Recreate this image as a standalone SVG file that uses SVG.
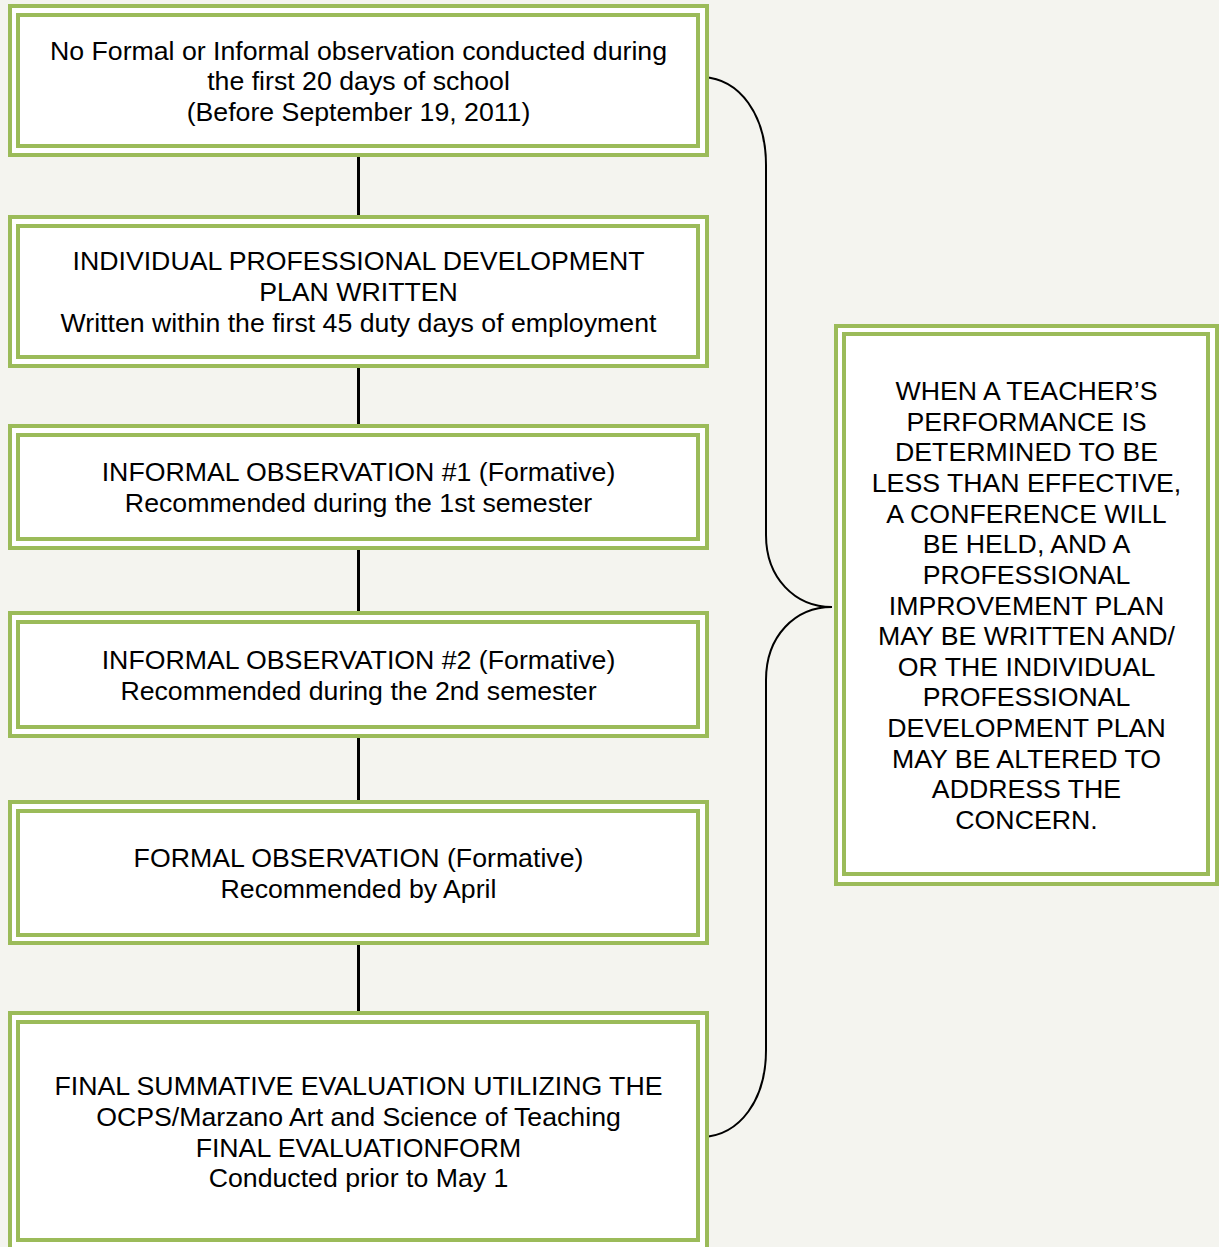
<svg xmlns="http://www.w3.org/2000/svg" width="1219" height="1247" viewBox="0 0 1219 1247">
<style>
.o{fill:#ffffff;stroke:#9bbb59;stroke-width:4}
.i{fill:none;stroke:#9bbb59;stroke-width:4}
text{font-family:"Liberation Sans",Arial,sans-serif;font-size:26.7px;fill:#000;text-anchor:middle}
.c{stroke:#000;stroke-width:3;fill:none}
.b{stroke:#000;stroke-width:2;fill:none}
</style>
<rect width="1219" height="1247" fill="#f4f4ef"/>
<g id="connectors">
<line class="c" x1="358.5" y1="155" x2="358.5" y2="219"/>
<line class="c" x1="358.5" y1="364" x2="358.5" y2="428"/>
<line class="c" x1="358.5" y1="546" x2="358.5" y2="615"/>
<line class="c" x1="358.5" y1="734" x2="358.5" y2="804"/>
<line class="c" x1="358.5" y1="941" x2="358.5" y2="1015"/>
<path class="b" d="M703,77 C740,79 766,115 766,165 L766,535 C766,578 795,607 832,607 C795,607 766,636 766,680 L766,1050 C766,1100 740,1135 703,1137"/>
</g>
<g id="n1">
<rect class="o" x="10" y="6" width="697" height="149"/>
<rect class="i" x="18" y="15" width="680" height="131"/>
<text x="358.5" y="60">No Formal or Informal observation conducted during</text>
<text x="358.5" y="90">the first 20 days of school</text>
<text x="358.5" y="121">(Before September 19, 2011)</text>
</g>
<g id="n2">
<rect class="o" x="10" y="217" width="697" height="149"/>
<rect class="i" x="18" y="226" width="680" height="131"/>
<text x="358.5" y="270">INDIVIDUAL PROFESSIONAL DEVELOPMENT</text>
<text x="358.5" y="301">PLAN WRITTEN</text>
<text x="358.5" y="332">Written within the first 45 duty days of employment</text>
</g>
<g id="n3">
<rect class="o" x="10" y="426" width="697" height="122"/>
<rect class="i" x="18" y="435" width="680" height="104"/>
<text x="358.5" y="481">INFORMAL OBSERVATION #1 (Formative)</text>
<text x="358.5" y="512">Recommended during the 1st semester</text>
</g>
<g id="n4">
<rect class="o" x="10" y="613" width="697" height="123"/>
<rect class="i" x="18" y="622" width="680" height="105"/>
<text x="358.5" y="669">INFORMAL OBSERVATION #2 (Formative)</text>
<text x="358.5" y="700">Recommended during the 2nd semester</text>
</g>
<g id="n5">
<rect class="o" x="10" y="802" width="697" height="141"/>
<rect class="i" x="18" y="811" width="680" height="124"/>
<text x="358.5" y="867">FORMAL OBSERVATION (Formative)</text>
<text x="358.5" y="898">Recommended by April</text>
</g>
<g id="n6">
<rect class="o" x="10" y="1013" width="697" height="260"/>
<rect class="i" x="18" y="1022" width="680" height="218"/>
<text x="358.5" y="1095">FINAL SUMMATIVE EVALUATION UTILIZING THE</text>
<text x="358.5" y="1126">OCPS/Marzano Art and Science of Teaching</text>
<text x="358.5" y="1157">FINAL EVALUATIONFORM</text>
<text x="358.5" y="1187">Conducted prior to May 1</text>
</g>
<g id="n7">
<rect class="o" x="836" y="326" width="381" height="558"/>
<rect class="i" x="844" y="334" width="364" height="540"/>
<text x="1026.5" y="400">WHEN A TEACHER’S</text>
<text x="1026.5" y="430.6">PERFORMANCE IS</text>
<text x="1026.5" y="461.3">DETERMINED TO BE</text>
<text x="1026.5" y="491.9">LESS THAN EFFECTIVE,</text>
<text x="1026.5" y="522.6">A CONFERENCE WILL</text>
<text x="1026.5" y="553.2">BE HELD, AND A</text>
<text x="1026.5" y="583.8">PROFESSIONAL</text>
<text x="1026.5" y="614.5">IMPROVEMENT PLAN</text>
<text x="1026.5" y="645.1">MAY BE WRITTEN AND/</text>
<text x="1026.5" y="675.8">OR THE INDIVIDUAL</text>
<text x="1026.5" y="706.4">PROFESSIONAL</text>
<text x="1026.5" y="737">DEVELOPMENT PLAN</text>
<text x="1026.5" y="767.7">MAY BE ALTERED TO</text>
<text x="1026.5" y="798.3">ADDRESS THE</text>
<text x="1026.5" y="829">CONCERN.</text>
</g>
</svg>
